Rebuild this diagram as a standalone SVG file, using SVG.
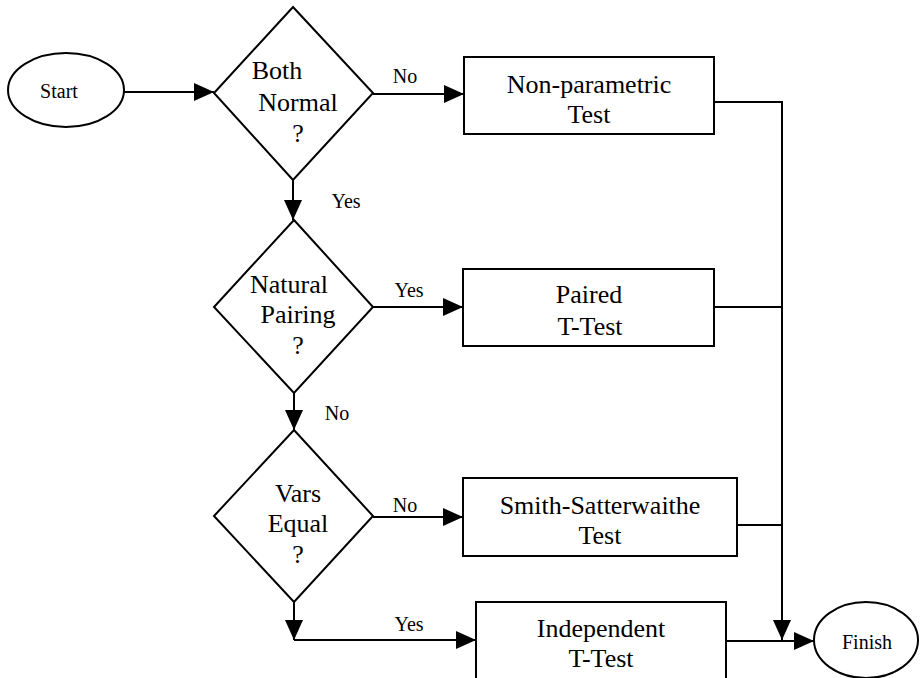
<svg xmlns="http://www.w3.org/2000/svg" width="920" height="678" viewBox="0 0 920 678">
<style>
.shape{fill:#fff;stroke:#000;stroke-width:2}
.conn{fill:none;stroke:#000;stroke-width:2}
.t{font-size:26px;fill:#000;text-anchor:middle}
.s{font-size:20px;fill:#000;text-anchor:middle}
</style>
<defs>
<marker id="arr" markerUnits="userSpaceOnUse" markerWidth="20" markerHeight="18" refX="20" refY="9" orient="auto">
<path d="M0,0 L20,9 L0,18 z" fill="#000"/>
</marker>
</defs>
<rect width="920" height="678" fill="#fff"/>
<g id="connectors">
<path class="conn" d="M124,92 H214" marker-end="url(#arr)"/>
<path class="conn" d="M373,94 H464" marker-end="url(#arr)"/>
<path class="conn" d="M293,180 V220" marker-end="url(#arr)"/>
<path class="conn" d="M373,307 H463" marker-end="url(#arr)"/>
<path class="conn" d="M294,393 V430" marker-end="url(#arr)"/>
<path class="conn" d="M373,517 H463" marker-end="url(#arr)"/>
<path class="conn" d="M294,602 V640" marker-end="url(#arr)"/>
<path class="conn" d="M294,640 H476" marker-end="url(#arr)"/>
<path class="conn" d="M714,102 H782 V640" marker-end="url(#arr)"/>
<path class="conn" d="M714,307 H782"/>
<path class="conn" d="M737,525 H782"/>
<path class="conn" d="M726,641 H814" marker-end="url(#arr)"/>
<text class="s" font-family="Liberation Serif, serif" x="405" y="83">No</text>
<text class="s" font-family="Liberation Serif, serif" x="346" y="208">Yes</text>
<text class="s" font-family="Liberation Serif, serif" x="409" y="297">Yes</text>
<text class="s" font-family="Liberation Serif, serif" x="337" y="420">No</text>
<text class="s" font-family="Liberation Serif, serif" x="405" y="512">No</text>
<text class="s" font-family="Liberation Serif, serif" x="409" y="631">Yes</text>
</g>
<g id="start">
<ellipse class="shape" cx="66" cy="90" rx="58" ry="37"/>
<text class="s" font-family="Liberation Serif, serif" x="59" y="98">Start</text>
</g>
<g id="both-normal">
<polygon class="shape" points="293,7 373,93 293,180 214,93"/>
<text class="t" font-family="Liberation Serif, serif" x="277" y="79">Both</text>
<text class="t" font-family="Liberation Serif, serif" x="298" y="111">Normal</text>
<text class="t" font-family="Liberation Serif, serif" x="298" y="142">?</text>
</g>
<g id="non-parametric">
<rect class="shape" x="464" y="57" width="250" height="77"/>
<text class="t" font-family="Liberation Serif, serif" x="589" y="93">Non-parametric</text>
<text class="t" font-family="Liberation Serif, serif" x="589" y="123">Test</text>
</g>
<g id="natural-pairing">
<polygon class="shape" points="294,220 373,307 294,393 214,307"/>
<text class="t" font-family="Liberation Serif, serif" x="289" y="293">Natural</text>
<text class="t" font-family="Liberation Serif, serif" x="298" y="323">Pairing</text>
<text class="t" font-family="Liberation Serif, serif" x="298" y="354">?</text>
</g>
<g id="paired">
<rect class="shape" x="463" y="269" width="251" height="77"/>
<text class="t" font-family="Liberation Serif, serif" x="589" y="303">Paired</text>
<text class="t" font-family="Liberation Serif, serif" x="590" y="335">T-Test</text>
</g>
<g id="vars-equal">
<polygon class="shape" points="294,430 373,516 294,602 214,516"/>
<text class="t" font-family="Liberation Serif, serif" x="298" y="502">Vars</text>
<text class="t" font-family="Liberation Serif, serif" x="298" y="532">Equal</text>
<text class="t" font-family="Liberation Serif, serif" x="298" y="563">?</text>
</g>
<g id="smith">
<rect class="shape" x="463" y="478" width="274" height="78"/>
<text class="t" font-family="Liberation Serif, serif" x="600" y="514">Smith-Satterwaithe</text>
<text class="t" font-family="Liberation Serif, serif" x="600" y="544">Test</text>
</g>
<g id="independent">
<rect class="shape" x="476" y="602" width="250" height="90"/>
<text class="t" font-family="Liberation Serif, serif" x="601" y="637">Independent</text>
<text class="t" font-family="Liberation Serif, serif" x="601" y="667">T-Test</text>
</g>
<g id="finish">
<ellipse class="shape" cx="866" cy="640" rx="52" ry="38"/>
<text class="s" font-family="Liberation Serif, serif" x="867" y="649">Finish</text>
</g>
</svg>
